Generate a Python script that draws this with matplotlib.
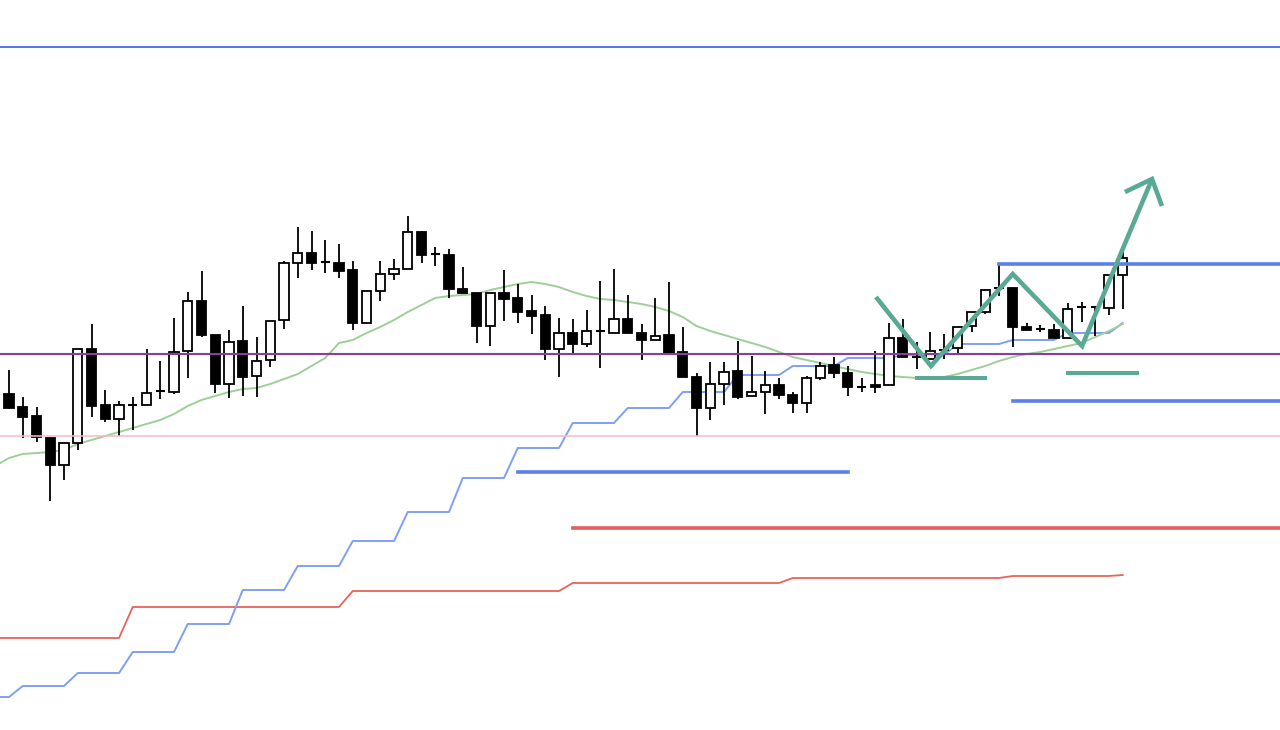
import numpy as np
import matplotlib
matplotlib.use("Agg")
import matplotlib.pyplot as plt

# ── OHLC (one row per candle, oldest first) ──────────────────────────────────
OPEN = [143.36, 143.23, 143.14, 142.92, 142.65, 142.87, 143.81, 143.25, 143.11, 143.25,
        143.25, 143.39, 143.38, 143.79, 144.29, 143.95, 143.46, 143.89, 143.54, 143.70,
        144.10, 144.67, 144.77, 144.68, 144.67, 144.60, 144.07, 144.39, 144.56, 144.61,
        144.98, 144.76, 144.75, 144.41, 144.37, 144.04, 144.37, 144.32, 144.19, 144.15,
        143.81, 143.97, 143.86, 143.99, 143.97, 144.11, 143.97, 143.90, 143.95, 143.78,
        143.53, 143.22, 143.46, 143.59, 143.34, 143.38, 143.45, 143.35, 143.27, 143.52,
        143.65, 143.57, 143.43, 143.45, 143.45, 143.92, 143.73, 143.71, 143.80, 143.82,
        144.04, 144.18, 144.42, 144.42, 144.03, 144.01, 144.00, 143.92, 144.23, 144.23,
        144.22, 144.55]
HIGH = [143.60, 143.33, 143.23, 142.92, 142.87, 143.81, 144.06, 143.40, 143.29, 143.33,
        143.81, 143.69, 144.12, 144.38, 144.59, 143.95, 144.00, 144.24, 143.93, 144.09,
        144.69, 145.03, 144.99, 144.90, 144.86, 144.69, 144.39, 144.69, 144.71, 145.14,
        144.99, 144.83, 144.81, 144.63, 144.37, 144.37, 144.60, 144.46, 144.35, 144.24,
        144.12, 144.11, 144.20, 144.49, 144.61, 144.35, 144.06, 144.32, 144.48, 144.03,
        143.57, 143.68, 143.68, 143.89, 143.74, 143.59, 143.52, 143.38, 143.54, 143.68,
        143.73, 143.64, 143.52, 143.79, 144.07, 144.11, 143.88, 143.98, 143.96, 144.03,
        144.18, 144.41, 144.65, 144.42, 144.07, 144.05, 144.06, 144.27, 144.28, 144.23,
        144.55, 144.85]
LOW = [143.21, 142.92, 142.88, 142.29, 142.50, 142.80, 143.13, 143.08, 142.94, 143.00,
       143.25, 143.31, 143.36, 143.52, 143.93, 143.37, 143.32, 143.34, 143.33, 143.63,
       144.01, 144.52, 144.60, 144.57, 144.52, 144.00, 144.07, 144.29, 144.50, 144.61,
       144.67, 144.64, 144.32, 144.37, 143.87, 143.84, 144.09, 144.07, 143.96, 143.70,
       143.53, 143.76, 143.83, 143.62, 143.97, 143.97, 143.70, 143.90, 143.77, 143.53,
       142.94, 143.10, 143.25, 143.31, 143.34, 143.16, 143.31, 143.17, 143.17, 143.50,
       143.52, 143.34, 143.38, 143.37, 143.45, 143.73, 143.61, 143.71, 143.71, 143.77,
       143.98, 144.16, 144.34, 143.83, 144.00, 143.98, 143.92, 143.92, 144.08, 143.94,
       144.15, 144.21]
CLOSE = [143.22, 143.13, 142.93, 142.65, 142.87, 143.81, 143.24, 143.11, 143.25, 143.25,
         143.37, 143.39, 143.78, 144.29, 143.95, 143.46, 143.88, 143.53, 143.69, 144.09,
         144.67, 144.77, 144.67, 144.68, 144.59, 144.07, 144.39, 144.56, 144.61, 144.98,
         144.75, 144.76, 144.41, 144.37, 144.04, 144.37, 144.31, 144.18, 144.14, 143.81,
         143.97, 143.86, 143.99, 143.99, 144.11, 143.97, 143.90, 143.94, 143.77, 143.53,
         143.22, 143.46, 143.58, 143.33, 143.38, 143.45, 143.35, 143.27, 143.52, 143.64,
         143.57, 143.43, 143.43, 143.43, 143.92, 143.73, 143.73, 143.79, 143.80, 144.03,
         144.18, 144.40, 144.42, 144.03, 144.00, 144.01, 143.92, 144.21, 144.23, 144.23,
         144.55, 144.72]

# indicator lines start one bar before the first visible candle
MA = [142.64, 142.72, 142.76, 142.77, 142.78, 142.80, 142.86, 142.90, 142.94, 142.98,
      143.02, 143.06, 143.10, 143.16, 143.24, 143.30, 143.34, 143.38, 143.41, 143.42,
      143.46, 143.51, 143.56, 143.64, 143.72, 143.87, 143.90, 143.97, 144.03, 144.10,
      144.18, 144.25, 144.32, 144.34, 144.35, 144.36, 144.40, 144.43, 144.46, 144.48,
      144.46, 144.43, 144.38, 144.34, 144.31, 144.30, 144.28, 144.26, 144.23, 144.19,
      144.13, 144.04, 143.99, 143.95, 143.91, 143.87, 143.83, 143.78, 143.73, 143.70,
      143.67, 143.64, 143.61, 143.58, 143.56, 143.54, 143.53, 143.52, 143.52, 143.53,
      143.56, 143.60, 143.64, 143.69, 143.73, 143.76, 143.78, 143.81, 143.84, 143.87,
      143.93, 143.99, 144.06]
BLUE_STEP = [140.33, 140.33, 140.44, 140.44, 140.44, 140.44, 140.57, 140.57, 140.57, 140.57,
             140.78, 140.78, 140.78, 140.78, 141.06, 141.06, 141.06, 141.06, 141.40, 141.40,
             141.40, 141.40, 141.64, 141.64, 141.64, 141.64, 141.89, 141.89, 141.89, 141.89,
             142.18, 142.18, 142.18, 142.18, 142.52, 142.52, 142.52, 142.52, 142.82, 142.82,
             142.82, 142.82, 143.07, 143.07, 143.07, 143.07, 143.22, 143.22, 143.22, 143.22,
             143.38, 143.38, 143.38, 143.38, 143.55, 143.55, 143.55, 143.55, 143.64, 143.64,
             143.64, 143.64, 143.72, 143.72, 143.72, 143.72, 143.75, 143.75, 143.75, 143.75,
             143.86, 143.86, 143.86, 143.86, 143.90, 143.90, 143.90, 143.90, 143.97, 143.97,
             143.97, 143.97, 144.07]
RED_STEP = [140.92, 140.92, 140.92, 140.92, 140.92, 140.92, 140.92, 140.92, 140.92, 140.92,
            141.23, 141.23, 141.23, 141.23, 141.23, 141.23, 141.23, 141.23, 141.23, 141.23,
            141.23, 141.23, 141.23, 141.23, 141.23, 141.23, 141.39, 141.39, 141.39, 141.39,
            141.39, 141.39, 141.39, 141.39, 141.39, 141.39, 141.39, 141.39, 141.39, 141.39,
            141.39, 141.39, 141.47, 141.47, 141.47, 141.47, 141.47, 141.47, 141.47, 141.47,
            141.47, 141.47, 141.47, 141.47, 141.47, 141.47, 141.47, 141.47, 141.52, 141.52,
            141.52, 141.52, 141.52, 141.52, 141.52, 141.52, 141.52, 141.52, 141.52, 141.52,
            141.52, 141.52, 141.52, 141.52, 141.54, 141.54, 141.54, 141.54, 141.54, 141.54,
            141.54, 141.54, 141.55]

# horizontal levels
TOP_LEVEL = 146.83
PURPLE_LEVEL = 143.76
PINK_LEVEL = 142.94
SUPPORT_LEVELS = [(142.58, 37, 61), (144.66, 72, None), (143.29, 73, None)]   # blue (price, from bar, to bar)
RED_LEVEL = (142.02, 41, None)
NECK_LEVELS = [(143.52, 66, 71), (143.57, 77, 82)]

# double-bottom sketch (bar, price)
PATTERN_X = [63.05, 67.05, 73.0, 78.04, 83.13]
PATTERN_Y = [144.33, 143.64, 144.56, 143.84, 145.51]
ARROW_X = [81.16, 83.13, 83.85]
ARROW_Y = [145.38, 145.51, 145.24]

# ── Figure ───────────────────────────────────────────────────────────────────
fig = plt.figure(figsize=(12.8, 7.3), dpi=100)
ax = fig.add_axes([0, 0, 1, 1])
ax.set_axis_off()

n = len(OPEN)
x = np.arange(n)
xl = np.arange(-1, n)
x_left, x_right = -9 / 13.75, -9 / 13.75 + 1280 / 13.75
ax.set_xlim(x_left, x_right)
ax.set_ylim(140.00, 147.30)

# indicators (behind candles)
ax.plot(xl, RED_STEP, color="#eb6258", lw=1.3, zorder=1)
ax.plot(xl, BLUE_STEP, color="#7f9ff7", lw=1.4, zorder=1)
ax.plot(xl, MA, color="#9dd097", lw=1.4, zorder=1)

# candles
o, h, l, c = map(np.array, (OPEN, HIGH, LOW, CLOSE))
w = 0.68
ax.vlines(x, l, h, color="black", lw=1.3, zorder=3)
body = np.abs(c - o)
is_doji = body < 0.005
bull = (c > o) & ~is_doji
bear = (c < o) & ~is_doji
ax.bar(x[bull], body[bull], w, bottom=o[bull], facecolor="white",
       edgecolor="black", linewidth=1.3, zorder=4)
ax.bar(x[bear], body[bear], w, bottom=c[bear], facecolor="black",
       edgecolor="black", linewidth=1.3, zorder=4)
ax.hlines(o[is_doji], x[is_doji] - w / 2, x[is_doji] + w / 2,
          color="black", lw=1.5, zorder=4)

# horizontal levels (on top)
ax.axhline(TOP_LEVEL, color="#4268f0", lw=1.3, zorder=5)
ax.axhline(PURPLE_LEVEL, color="#8a3d9e", lw=1.5, zorder=5)
ax.axhline(PINK_LEVEL, color="#f3bccb", lw=1.1, zorder=5)
for price, a, b in SUPPORT_LEVELS:
    ax.hlines(price, a, x_right if b is None else b, color="#5b80ec", lw=2.6,
              capstyle="projecting", zorder=5)
price, a, b = RED_LEVEL
ax.hlines(price, a, x_right if b is None else b, color="#e35d5d", lw=2.6,
          capstyle="projecting", zorder=5)
for price, a, b in NECK_LEVELS:
    ax.hlines(price, a, b, color="#5aa994", lw=2.9, capstyle="projecting", zorder=6)

ax.plot(PATTERN_X, PATTERN_Y, color="#5aa994", lw=3.3, zorder=6,
        solid_capstyle="butt", solid_joinstyle="miter")
ax.plot(ARROW_X, ARROW_Y, color="#5aa994", lw=3.3, zorder=6,
        solid_capstyle="butt", solid_joinstyle="miter")

fig.savefig("out.png", dpi=100, facecolor="white")
